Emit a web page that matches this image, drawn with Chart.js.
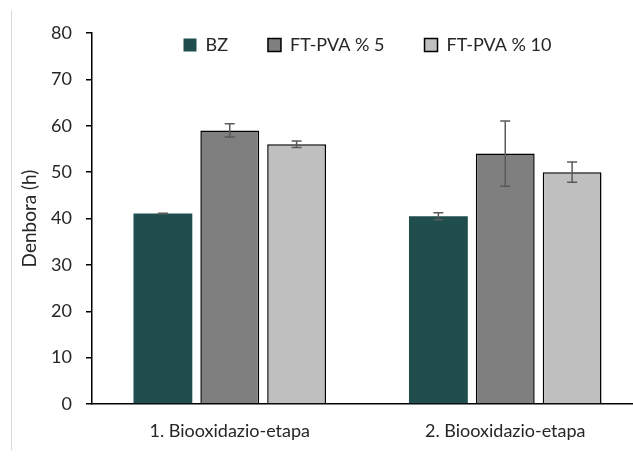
<!DOCTYPE html>
<html>
<head>
<meta charset="utf-8">
<script src="https://cdn.jsdelivr.net/npm/chart.js@4"></script>
<style>
  html,body{margin:0;padding:0;background:#fff;overflow:hidden}
  #wrap{position:relative;width:648px;height:459px}
  #edge{position:absolute;left:11px;top:10px;height:440px;border-left:1px solid #d9d9d9}
</style>
</head>
<body>
<div id="wrap">
  <div id="edge"></div>
  <canvas id="c" width="648" height="459"></canvas>
</div>
<script>
// data
const categories = ['1. Biooxidazio-etapa', '2. Biooxidazio-etapa'];
const seriesNames = ['BZ', 'FT-PVA % 5', 'FT-PVA % 10'];
const bzValues = [41.1, 40.5];
const bzErrors = [0.05, 0.75];
const ft5Values = [59.0, 54.0];
const ft5Errors = [1.45, 7.05];
const ft10Values = [56.0, 50.0];
const ft10Errors = [0.7, 2.2];
const yTicks = [0, 10, 20, 30, 40, 50, 60, 70, 80];

const FONT = 'Lato';
const TXT = '#262626';
const LEG_PAD = 40;

// error bars drawn from the scale, one per bar
const errorBars = {
  id: 'errorBars',
  afterDatasetsDraw(chart){
    const ctx = chart.ctx, y = chart.scales.y;
    chart.data.datasets.forEach((ds, i) => {
      const meta = chart.getDatasetMeta(i);
      meta.data.forEach((bar, j) => {
        const v = ds.data[j], e = ds.errors[j];
        const top = y.getPixelForValue(v + e), bot = y.getPixelForValue(v - e);
        ctx.save();
        ctx.strokeStyle = '#5a5a5a';
        ctx.lineWidth = 1.5;
        ctx.beginPath();
        ctx.moveTo(bar.x, top); ctx.lineTo(bar.x, bot);
        ctx.moveTo(bar.x - 5, top); ctx.lineTo(bar.x + 5, top);
        ctx.moveTo(bar.x - 5, bot); ctx.lineTo(bar.x + 5, bot);
        ctx.stroke();
        ctx.restore();
      });
    });
  }
};

// excel puts the legend inside the plot, just under the top
const liftLegend = {
  id: 'liftLegend',
  afterLayout(chart){
    const lg = chart.legend;
    if (lg){ lg.top += 31; lg.bottom += 31; }
  }
};

new Chart(document.getElementById('c'), {
  type: 'bar',
  data: {
    labels: categories,
    datasets: [
      {label: seriesNames[0], data: bzValues, errors: bzErrors, backgroundColor: '#1f4e4c', borderColor: '#1f4e4c', borderWidth: 0},
      {label: seriesNames[1], data: ft5Values, errors: ft5Errors, backgroundColor: '#7f7f7f', borderColor: '#000', borderWidth: 1.5},
      {label: seriesNames[2], data: ft10Values, errors: ft10Errors, backgroundColor: '#bfbfbf', borderColor: '#000', borderWidth: 1.5}
    ]
  },
  options: {
    responsive: false,
    animation: false,
    events: [],
    categoryPercentage: 0.728,
    barPercentage: 0.88,
    // legend height is 18 + pad + 10; negative top pad keeps the plot top at y=33
    layout: {padding: {top: 33 - (18 + LEG_PAD + 10), right: 5, left: 0, bottom: 0}},
    plugins: {
      tooltip: {enabled: false},
      legend: {
        position: 'top',
        fullSize: false,
        align: 'center',
        labels: {
          font: {family: FONT, size: 18},
          color: TXT,
          boxWidth: 13,
          boxHeight: 13,
          padding: LEG_PAD
        }
      }
    },
    scales: {
      x: {
        grid: {display: false, drawTicks: false},
        border: {color: '#000', width: 1.5},
        ticks: {font: {family: FONT, size: 18}, color: TXT, padding: 16},
        afterFit: s => { s.height = 55; }
      },
      y: {
        min: 0, max: 80,
        afterBuildTicks: s => { s.ticks = yTicks.map(v => ({value: v})); },
        grid: {drawOnChartArea: false, drawTicks: true, tickLength: 6, color: '#000', lineWidth: 1.5},
        border: {color: '#000', width: 1.5},
        ticks: {font: {family: FONT, size: 18}, color: TXT, padding: 14},
        title: {display: true, text: 'Denbora (h)', font: {family: FONT, size: 19}, color: TXT, padding: {top: 18, bottom: 0}},
        afterFit: s => { s.width = 92; }
      }
    }
  },
  plugins: [errorBars, liftLegend]
});
</script>
</body>
</html>
